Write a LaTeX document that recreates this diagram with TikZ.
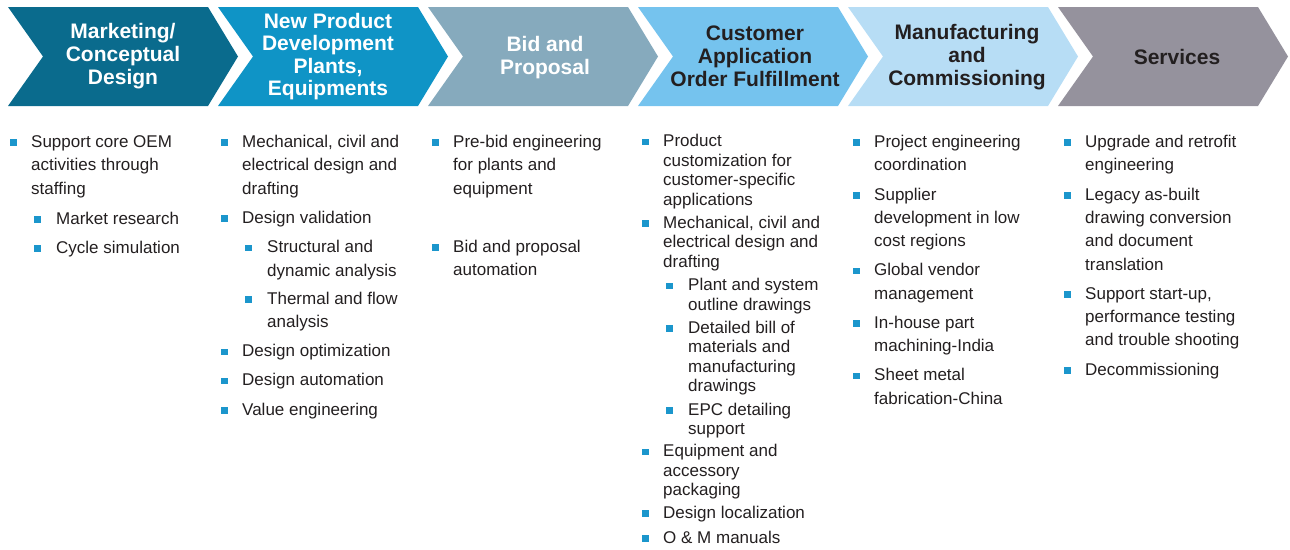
\documentclass[tikz,border=0pt]{standalone}
\usepackage{fontspec}
\setmainfont{Liberation Sans}
\definecolor{cA}{HTML}{0A6B8D}
\definecolor{cB}{HTML}{0F94C6}
\definecolor{cC}{HTML}{86AABD}
\definecolor{cD}{HTML}{75C3EE}
\definecolor{cE}{HTML}{B7DDF5}
\definecolor{cF}{HTML}{95929D}
\definecolor{bul}{HTML}{1B96CC}
\definecolor{txt}{HTML}{231F20}
\newcommand\bodyfnt{\fontsize{17}{23.4}\selectfont}
\newcommand\tightfnt{\fontsize{17}{19.5}\selectfont}
\newcommand\headfnt{\fontsize{21}{23.2}\selectfont\bfseries}
\newcommand\headfntb{\fontsize{21}{22.4}\selectfont\bfseries}
\newcommand\llines[1]{\begin{tabular}[t]{@{}l@{}}#1\end{tabular}}
\newcommand\clines[1]{\begin{tabular}[t]{@{}c@{}}#1\end{tabular}}
\tikzset{
  item/.style={anchor=base west, inner sep=0pt, font=\bodyfnt, text=txt},
  titem/.style={item, font=\tightfnt},
  head/.style={anchor=base, inner sep=0pt, font=\headfnt},
  sq/.style={fill=bul, minimum size=6.6pt, inner sep=0pt, anchor=center}
}
% name, text x, baseline, style, text, bullet offset
\newcommand\bitem[6]{%
  \node[sq] (#1b) at ({#2-#6},{#3-4.6}) {};
  \node[#4] (#1) at (#2,#3) {\llines{#5}};
}
\newcommand\chevron[2]{%
  \fill[#2] (#1,7) -- ({#1+200},7) -- ({#1+230},56.5) -- ({#1+200},106) -- (#1,106) -- ({#1+35},56.5) -- cycle;
}
\begin{document}
\begin{tikzpicture}[x=1pt,y=-1pt]
\useasboundingbox (0,0) rectangle (1290,549);
\chevron{8}{cA}
\chevron{218}{cB}
\chevron{428}{cC}
\chevron{638}{cD}
\chevron{848}{cE}
\chevron{1058}{cF}

\node[head, text=white] (h1) at (123,38.3) {\clines{Marketing/\\Conceptual\\Design}};
\node[head, text=white, font=\headfntb] (h2) at (328,28.3) {\clines{New Product\\Development\\Plants,\\Equipments}};
\node[head, text=white] (h3) at (545,51.7) {\clines{Bid and\\Proposal}};
\node[head, text=txt] (h4) at (755,40) {\clines{Customer\\Application\\Order Fulfillment}};
\node[head, text=txt] (h5) at (967,39.3) {\clines{Manufacturing\\and\\Commissioning}};
\node[head, text=txt] (h6) at (1177,64) {\clines{Services}};

% column 1
\bitem{a1}{31}{147.3}{item}{Support core OEM\\activities through\\staffing}{17.5}
\bitem{a2}{56}{224}{item}{Market research}{18.5}
\bitem{a3}{56}{253.3}{item}{Cycle simulation}{18.5}

% column 2
\bitem{b1}{242}{147.3}{item}{Mechanical, civil and\\electrical design and\\drafting}{17.5}
\bitem{b2}{242}{223.3}{item}{Design validation}{17.5}
\bitem{b3}{267}{252.7}{item}{Structural and\\dynamic analysis}{18.5}
\bitem{b4}{267}{304.3}{item}{Thermal and flow\\analysis}{18.5}
\bitem{b5}{242}{356.7}{item}{Design optimization}{17.5}
\bitem{b6}{242}{385.7}{item}{Design automation}{17.5}
\bitem{b7}{242}{415}{item}{Value engineering}{17.5}

% column 3
\bitem{c1}{453}{147.3}{item}{Pre-bid engineering\\for plants and\\equipment}{17.5}
\bitem{c2}{453}{252.3}{item}{Bid and proposal\\automation}{17.5}

% column 4
\bitem{d1}{663}{146.7}{titem}{Product\\customization for\\customer-specific\\applications}{17.5}
\bitem{d2}{663}{228.3}{titem}{Mechanical, civil and\\electrical design and\\drafting}{17.5}
\bitem{d3}{688}{290.7}{titem}{Plant and system\\outline drawings}{18.5}
\bitem{d4}{688}{333.3}{titem}{Detailed bill of\\materials and\\manufacturing\\drawings}{18.5}
\bitem{d5}{688}{415}{titem}{EPC detailing\\support}{18.5}
\bitem{d6}{663}{456.7}{titem}{Equipment and\\accessory\\packaging}{17.5}
\bitem{d7}{663}{518.3}{titem}{Design localization}{17.5}
\bitem{d8}{663}{543.3}{titem}{O \& M manuals}{17.5}

% column 5
\bitem{e1}{874}{147.3}{item}{Project engineering\\coordination}{17.5}
\bitem{e2}{874}{200}{item}{Supplier\\development in low\\cost regions}{17.5}
\bitem{e3}{874}{275.7}{item}{Global vendor\\management}{17.5}
\bitem{e4}{874}{328.3}{item}{In-house part\\machining-India}{17.5}
\bitem{e5}{874}{380.7}{item}{Sheet metal\\fabrication-China}{17.5}

% column 6
\bitem{f1}{1085}{147.3}{item}{Upgrade and retrofit\\engineering}{17.5}
\bitem{f2}{1085}{200}{item}{Legacy as-built\\drawing conversion\\and document\\translation}{17.5}
\bitem{f3}{1085}{299}{item}{Support start-up,\\performance testing\\and trouble shooting}{17.5}
\bitem{f4}{1085}{375}{item}{Decommissioning}{17.5}
\end{tikzpicture}
\end{document}
